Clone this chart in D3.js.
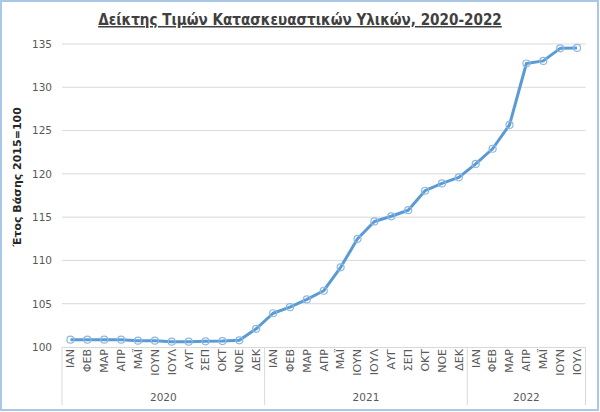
<!DOCTYPE html>
<html><head><meta charset="utf-8">
<script src="https://cdn.jsdelivr.net/npm/d3@7"></script>
<style>body{margin:0;background:#fff}svg{display:block}</style>
</head><body><svg id="c" width="600" height="412"></svg>
<script>
const months = ["ΙΑΝ","ΦΕΒ","ΜΑΡ","ΑΠΡ","ΜΑΪ","ΙΟΥΝ","ΙΟΥΛ","ΑΥΓ","ΣΕΠ","ΟΚΤ","ΝΟΕ","ΔΕΚ"];
const years = ["2020","2021","2022"];
const monthsPerYear = [12,12,7];
const values2020 = [100.85,100.85,100.85,100.85,100.73,100.73,100.62,100.62,100.66,100.69,100.77,102.1];
const values2021 = [103.9,104.6,105.5,106.5,109.2,112.5,114.5,115.1,115.8,118.05,118.9,119.6];
const values2022 = [121.15,122.9,125.65,132.75,133.05,134.5,134.55];
const yTicks = [100,105,110,115,120,125,130,135];

const data = [];
[values2020, values2021, values2022].forEach((arr, yi) => {
  arr.forEach((v, mi) => data.push({key: years[yi] + "-" + mi, year: years[yi], month: months[mi], value: v}));
});

const svg = d3.select("#c");
const L = 62, R = 585.5, T = 44, B = 347;
const x = d3.scaleBand().domain(data.map(d => d.key)).range([L, R]);
const y = d3.scaleLinear().domain([100, 135]).range([B, T]);

// frame
svg.append("rect").attr("x", 1).attr("y", 1).attr("width", 597).attr("height", 409)
  .attr("fill", "#fff").attr("stroke", "#a9c8e8").attr("stroke-width", 2);

// title
const title = svg.append("text").attr("x", 300).attr("y", 25).attr("text-anchor", "middle")
  .attr("font-family", "DejaVu Sans Condensed, DejaVu Sans").attr("font-weight", "bold").attr("font-size", 15)
  .attr("fill", "#404040").attr("text-decoration", "underline")
  .text("Δείκτης Τιμών Κατασκευαστικών Υλικών, 2020-2022");
const tl = title.node().getComputedTextLength();
title.attr("font-size", 15 * 404 / tl);

// grid
svg.append("g").selectAll("line").data(yTicks.filter(t => t > 100)).join("line")
  .attr("x1", L).attr("x2", R).attr("y1", d => y(d)).attr("y2", d => y(d))
  .attr("stroke", "#d9d9d9").attr("stroke-width", 1);

// y axis labels
const yAxis = d3.axisLeft(y).tickValues(yTicks).tickSize(0).tickPadding(10);
const gy = svg.append("g").attr("transform", `translate(${L},0)`).call(yAxis);
gy.select(".domain").remove();
gy.selectAll("text").attr("font-family", "DejaVu Sans").attr("font-size", 10.5).attr("fill", "#595959");

// y title
svg.append("text").attr("transform", "translate(21,177) rotate(-90)").attr("text-anchor", "middle")
  .attr("font-family", "DejaVu Sans").attr("font-weight", "bold").attr("font-size", 11)
  .attr("fill", "#262626").text("Έτος Βάσης 2015=100");

// x axis: months
const xAxis = d3.axisBottom(x).tickSize(0).tickFormat(k => data.find(d => d.key === k).month);
const gx = svg.append("g").attr("transform", `translate(0,${B})`).call(xAxis);
gx.select(".domain").attr("stroke", "#d9d9d9");
gx.selectAll("text").attr("font-family", "DejaVu Sans").attr("font-size", 11).attr("fill", "#595959")
  .attr("transform", "rotate(-90)").attr("text-anchor", "end").attr("x", -2).attr("y", 0).attr("dy", "0.35em");

// year groups
let start = 0;
const bounds = [];
monthsPerYear.forEach((n, i) => {
  const k0 = data[start].key, k1 = data[start + n - 1].key;
  bounds.push({year: years[i], x0: x(k0), x1: x(k1) + x.bandwidth()});
  start += n;
});
const sepX = [bounds[0].x0].concat(bounds.map(b => b.x1));
svg.append("g").selectAll("line").data(sepX).join("line")
  .attr("x1", d => d).attr("x2", d => d).attr("y1", B).attr("y2", 405)
  .attr("stroke", "#d9d9d9").attr("stroke-width", 1);
svg.append("g").selectAll("text").data(bounds).join("text")
  .attr("x", d => (d.x0 + d.x1) / 2).attr("y", 401).attr("text-anchor", "middle")
  .attr("font-family", "DejaVu Sans").attr("font-size", 10.5).attr("fill", "#595959")
  .text(d => d.year);

// line
const line = d3.line().x(d => x(d.key) + x.bandwidth() / 2).y(d => y(d.value));
svg.append("path").datum(data).attr("d", line).attr("fill", "none")
  .attr("stroke", "#5b9bd5").attr("stroke-width", 3).attr("stroke-linejoin", "round");
svg.append("g").selectAll("circle").data(data).join("circle")
  .attr("cx", d => x(d.key) + x.bandwidth() / 2).attr("cy", d => y(d.value)).attr("r", 3.5)
  .attr("fill", "none").attr("stroke", "#8db8e2").attr("stroke-width", 1.2);
</script></body></html>
